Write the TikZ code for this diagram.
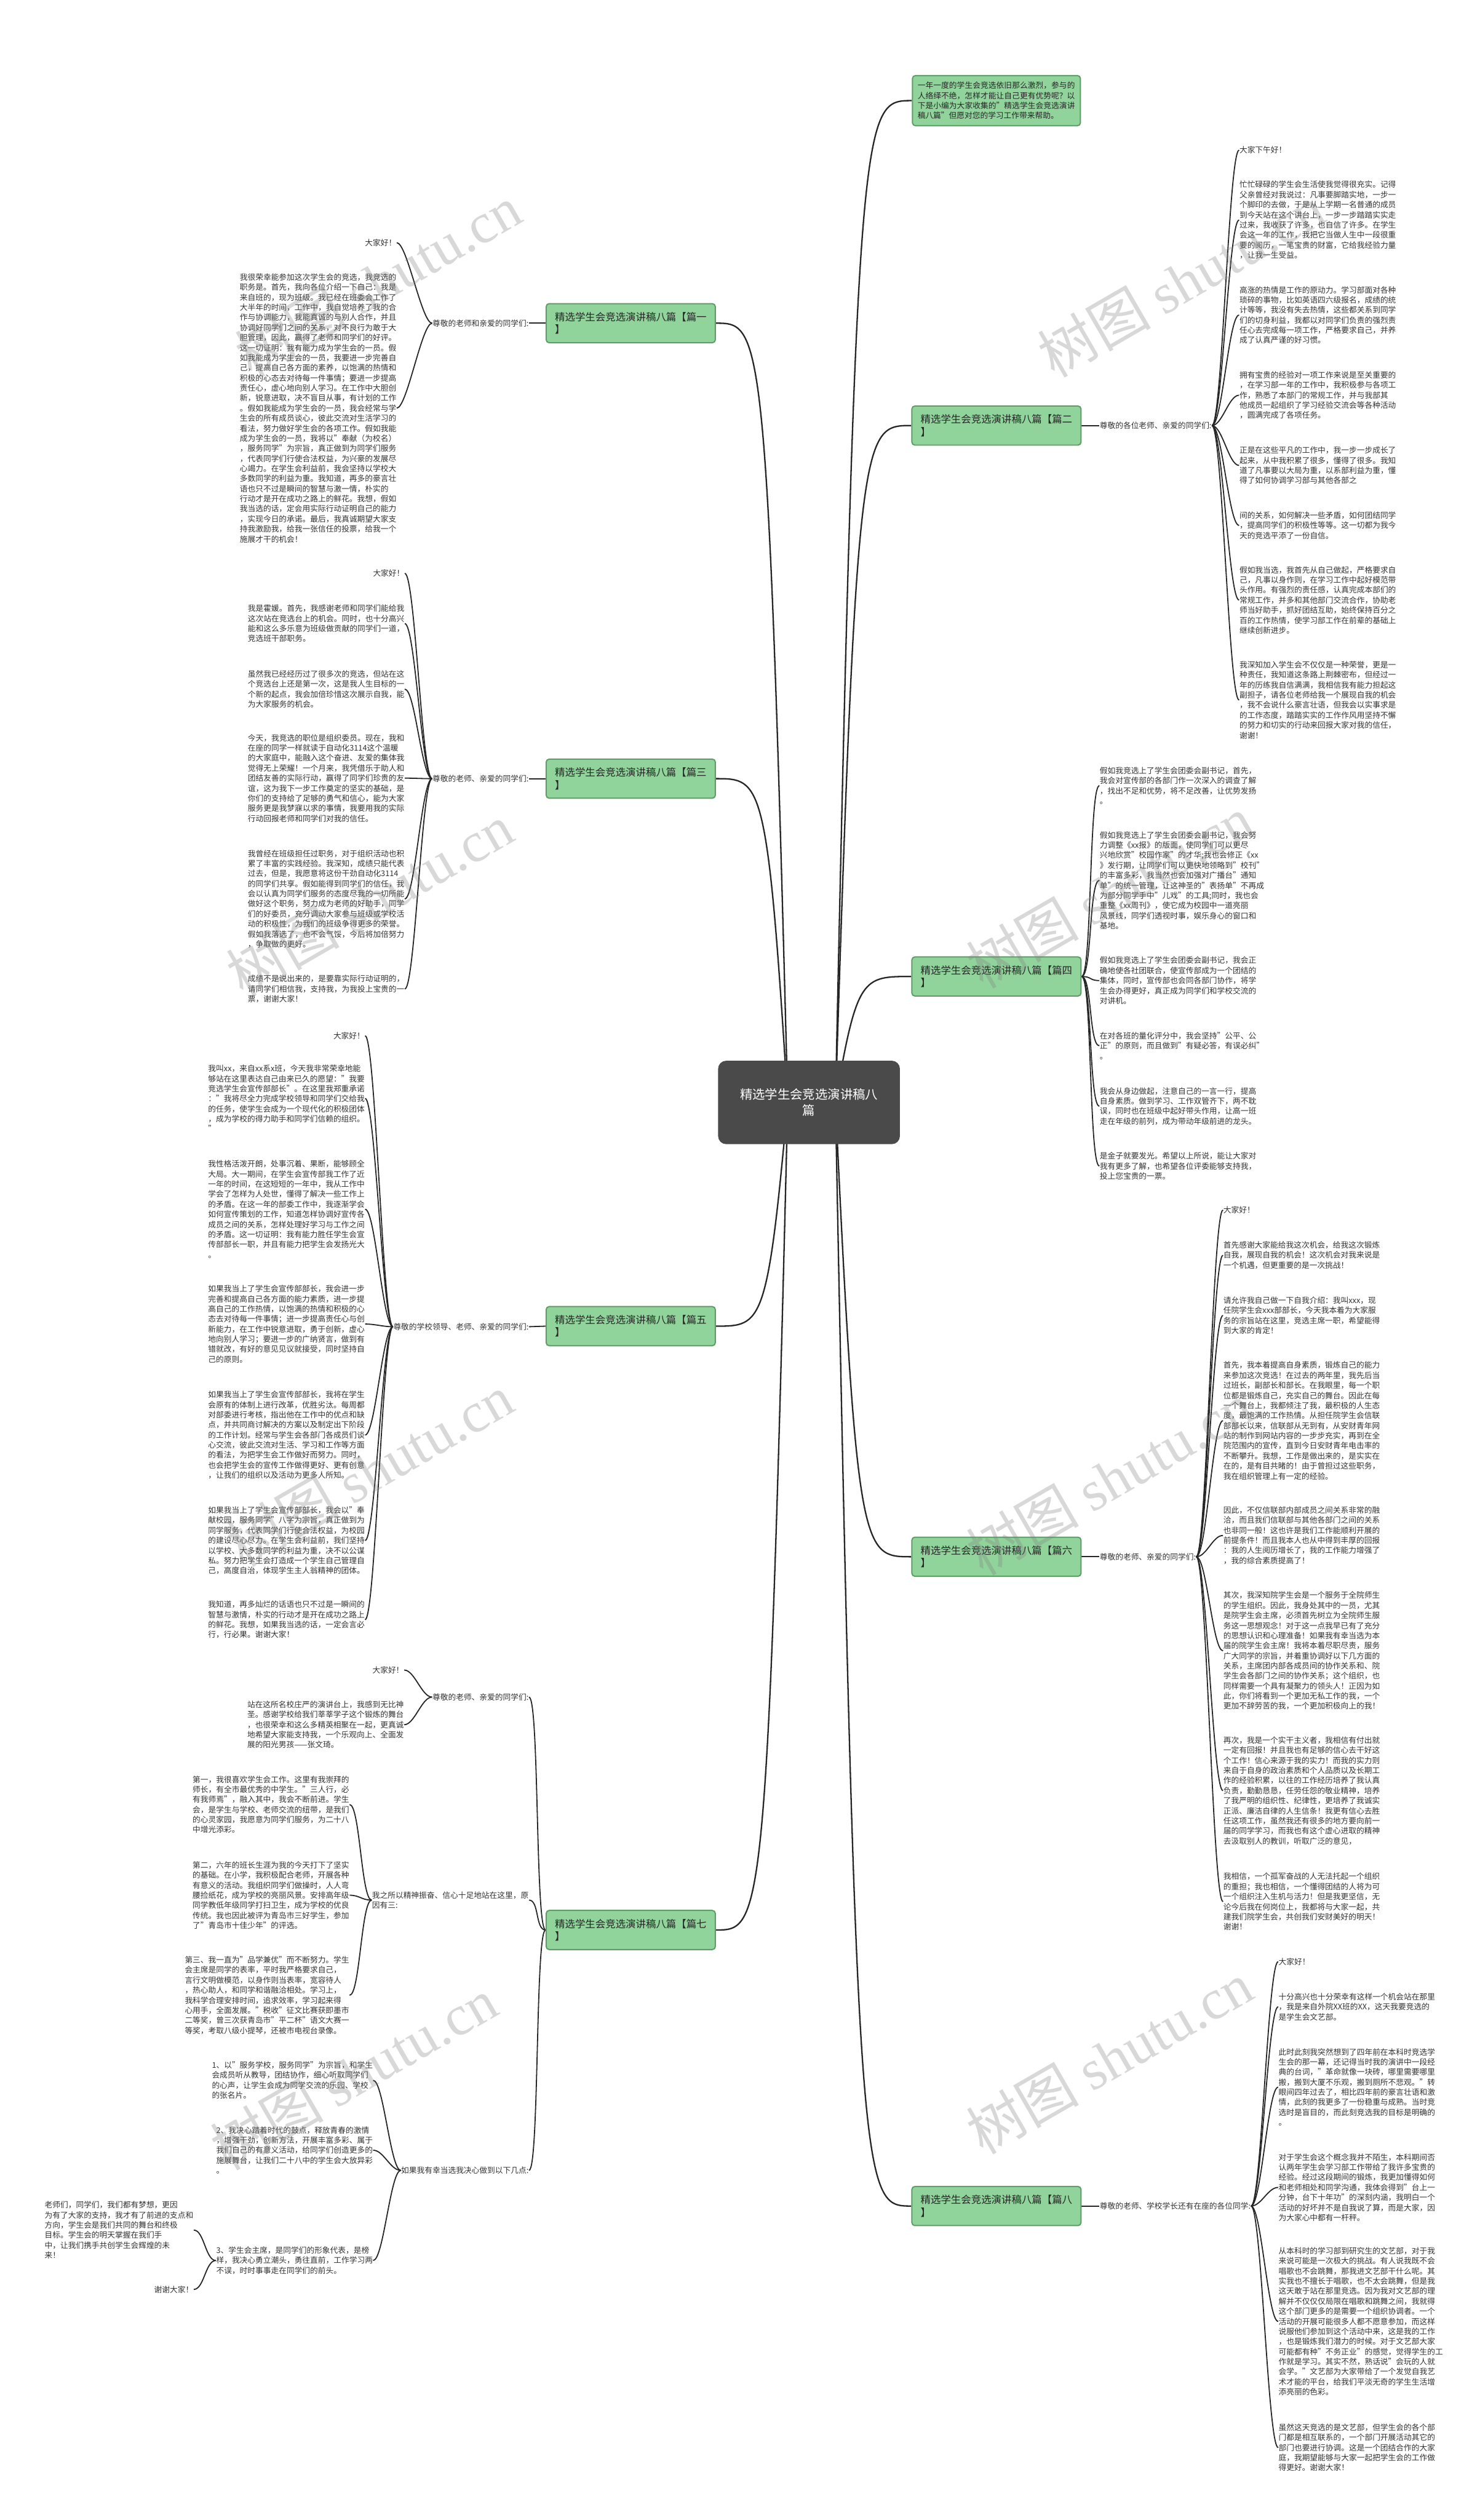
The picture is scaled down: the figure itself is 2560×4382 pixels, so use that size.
\documentclass[tikz,border=0pt]{standalone}
\usepackage{fontspec}
\setmainfont{Noto Sans CJK SC}
\newfontfamily\wmserif{Liberation Serif}
\usetikzlibrary{backgrounds}
\XeTeXlinebreaklocale "zh"
\XeTeXlinebreakskip=0pt plus 1pt
\definecolor{gfill}{HTML}{90D39B}
\definecolor{gline}{HTML}{5E9E66}
\definecolor{rootc}{HTML}{4A4A4A}
\definecolor{txt}{HTML}{333333}
\tikzset{
  para/.style={inner sep=0pt, align=left, text=txt, font=\fontsize{3.87pt}{4.98pt}\selectfont},
  branch/.style={draw=gline, fill=gfill, line width=0.6pt, rounded corners=1.5pt, minimum width=2.94cm, minimum height=0.68cm, inner xsep=0.12cm, inner ysep=0.08cm, align=left, font=\fontsize{5pt}{6.2pt}\selectfont, text=black!85},
  rootbox/.style={fill=rootc, text=white, rounded corners=4pt, minimum width=3.16cm, minimum height=1.45cm, align=center, font=\fontsize{6.2pt}{8pt}\selectfont},
  link/.style={line width=0.7pt, draw=black!85},
  sub/.style={line width=0.55pt, draw=black!85},
  wm/.style={text=gray, text opacity=0.3, rotate=30, font=\fontsize{28pt}{30pt}\selectfont, inner sep=0pt},
}
\newcommand{\brL}[2]{\draw[sub] (#1.west) .. controls +(-18,0) and +(18,0) .. (#2.east);}
\newcommand{\brR}[2]{\draw[sub] (#1.east) .. controls +(18,0) and +(-18,0) .. (#2.west);}
\begin{document}
\begin{tikzpicture}[x=0.01cm,y=-0.01cm]
\useasboundingbox (0,0) rectangle (2560,4382);
% root
\node[rootbox] (root) at (1407,1917) {精选学生会竞选演讲稿八\\篇};
\coordinate (rootR) at (1453,1917);
\coordinate (rootL) at (1370,1917);
% intro
\node[branch, minimum width=2.92cm, text width=2.74cm, font=\fontsize{3.87pt}{4.98pt}\selectfont, inner xsep=0.09cm, inner ysep=0.11cm] (intro) at (1733,175) {一年一度的学生会竞选依旧那么激烈，参与的人络绎不绝，怎样才能让自己更有优势呢？以下是小编为大家收集的"精选学生会竞选演讲稿八篇"但愿对您的学习工作带来帮助。};
% branches
\node[branch] (b1) at (1097,562) {精选学生会竞选演讲稿八篇【篇一\\】};
\node[branch] (b3) at (1097,1354) {精选学生会竞选演讲稿八篇【篇三\\】};
\node[branch] (b5) at (1097,2306) {精选学生会竞选演讲稿八篇【篇五\\】};
\node[branch] (b7) at (1097,3356) {精选学生会竞选演讲稿八篇【篇七\\】};
\node[branch] (b2) at (1733,740) {精选学生会竞选演讲稿八篇【篇二\\】};
\node[branch] (b4) at (1733,1698) {精选学生会竞选演讲稿八篇【篇四\\】};
\node[branch] (b6) at (1733,2707) {精选学生会竞选演讲稿八篇【篇六\\】};
\node[branch] (b8) at (1733,3836) {精选学生会竞选演讲稿八篇【篇八\\】};
% labels
\node[para, anchor=east] (l1) at (920,562) {尊敬的老师和亲爱的同学们:};
\node[para, anchor=east] (l3) at (920,1354) {尊敬的老师、亲爱的同学们:};
\node[para, anchor=east] (l5) at (920,2307) {尊敬的学校领导、老师、亲爱的同学们:};
\node[para, anchor=east] (l7a) at (920,2951) {尊敬的老师、亲爱的同学们:};
\node[para, anchor=east] (l7b) at (920,3304) {我之所以精神振奋、信心十足地站在这里，原\\因有三:};
\node[para, anchor=east] (l7c) at (920,3774) {如果我有幸当选我决心做到以下几点:};
\node[para, anchor=west] (l2) at (1912,740) {尊敬的各位老师、亲爱的同学们:};
\node[para, anchor=west] (l6) at (1912,2707) {尊敬的老师、亲爱的同学们:};
\node[para, anchor=west] (l8) at (1912,3836) {尊敬的老师、学校学长还有在座的各位同学:};
% ---------- 篇一
\node[para, anchor=east] (p1a) at (690,422) {大家好！};
\node[para, anchor=north east] (p1b) at (690,475) {我很荣幸能参加这次学生会的竞选，我竞选的\\
职务是。首先，我向各位介绍一下自己：我是\\
来自班的，现为班级。我已经在班委会工作了\\
大半年的时间，工作中，我自觉培养了我的合\\
作与协调能力，我能真诚的与别人合作，并且\\
协调好同学们之间的关系，对不良行为敢于大\\
胆管理，因此，赢得了老师和同学们的好评。\\
这一切证明：我有能力成为学生会的一员。假\\
如我能成为学生会的一员，我要进一步完善自\\
己，提高自己各方面的素养，以饱满的热情和\\
积极的心态去对待每一件事情；要进一步提高\\
责任心，虚心地向别人学习。在工作中大胆创\\
新，锐意进取，决不盲目从事，有计划的工作\\
。假如我能成为学生会的一员，我会经常与学\\
生会的所有成员谈心，彼此交流对生活学习的\\
看法，努力做好学生会的各项工作。假如我能\\
成为学生会的一员，我将以"奉献（为校名）\\
，服务同学"为宗旨，真正做到为同学们服务\\
，代表同学们行使合法权益，为兴豪的发展尽\\
心竭力。在学生会利益前，我会坚持以学校大\\
多数同学的利益为重。我知道，再多的豪言壮\\
语也只不过是瞬间的智慧与激一情，朴实的\\
行动才是开在成功之路上的鲜花。我想，假如\\
我当选的话，定会用实际行动证明自己的能力\\
，实现今日的承诺。最后，我真诚期望大家支\\
持我激励我，给我一张信任的投票，给我一个\\
施展才干的机会！};
% ---------- 篇三
\node[para, anchor=east] (p3a) at (704,997) {大家好！};
\node[para, anchor=north east] (p3b) at (704,1051) {我是霍媛。首先，我感谢老师和同学们能给我\\
这次站在竞选台上的机会。同时，也十分高兴\\
能和这么多乐意为班级做贡献的同学们一道，\\
竞选班干部职务。};
\node[para, anchor=north east] (p3c) at (704,1165) {虽然我已经经历过了很多次的竞选，但站在这\\
个竞选台上还是第一次，这是我人生目标的一\\
个新的起点，我会加倍珍惜这次展示自我，能\\
为大家服务的机会。};
\node[para, anchor=north east] (p3d) at (704,1276) {今天，我竞选的职位是组织委员。现在，我和\\
在座的同学一样就读于自动化3114这个温暖\\
的大家庭中，能融入这个奋进、友爱的集体我\\
觉得无上荣耀！一个月来，我凭借乐于助人和\\
团结友善的实际行动，赢得了同学们珍贵的友\\
谊，这为我下一步工作奠定的坚实的基础，是\\
你们的支持给了足够的勇气和信心，能为大家\\
服务更是我梦寐以求的事情，我要用我的实际\\
行动回报老师和同学们对我的信任。};
\node[para, anchor=north east] (p3e) at (704,1477) {我曾经在班级担任过职务，对于组织活动也积\\
累了丰富的实践经验。我深知，成绩只能代表\\
过去，但是，我愿意将这份干劲自动化3114\\
的同学们共享。假如能得到同学们的信任，我\\
会以认真为同学们服务的态度尽我的一切所能\\
做好这个职务，努力成为老师的好助手，同学\\
们的好委员，充分调动大家参与班级或学校活\\
动的积极性，为我们的班级争得更多的荣誉。\\
假如我落选了，也不会气馁，今后将加倍努力\\
，争取做的更好。};
\node[para, anchor=north east] (p3f) at (704,1695) {成绩不是说出来的，是要靠实际行动证明的，\\
请同学们相信我，支持我，为我投上宝贵的一\\
票，谢谢大家！};
% ---------- 篇五
\node[para, anchor=east] (p5a) at (635,1801) {大家好！};
\node[para, anchor=north east] (p5b) at (635,1851) {我叫xx，来自xx系x班，今天我非常荣幸地能\\
够站在这里表达自己由来已久的愿望："我要\\
竞选学生会宣传部部长"。在这里我郑重承诺\\
："我将尽全力完成学校领导和同学们交给我\\
的任务，使学生会成为一个现代化的积极团体\\
，成为学校的得力助手和同学们信赖的组织。\\
"};
\node[para, anchor=north east] (p5c) at (635,2017) {我性格活泼开朗，处事沉着、果断，能够顾全\\
大局。大一期间，在学生会宣传部我工作了近\\
一年的时间，在这短短的一年中，我从工作中\\
学会了怎样为人处世，懂得了解决一些工作上\\
的矛盾。在这一年的部委工作中，我逐渐学会\\
如何宣传策划的工作，知道怎样协调好宣传各\\
成员之间的关系，怎样处理好学习与工作之间\\
的矛盾。这一切证明：我有能力胜任学生会宣\\
传部部长一职，并且有能力把学生会发扬光大\\
。};
\node[para, anchor=north east] (p5d) at (635,2234) {如果我当上了学生会宣传部部长，我会进一步\\
完善和提高自己各方面的能力素质，进一步提\\
高自己的工作热情，以饱满的热情和积极的心\\
态去对待每一件事情；进一步提高责任心与创\\
新能力，在工作中锐意进取，勇于创新，虚心\\
地向别人学习；要进一步的广纳贤言，做到有\\
错就改，有好的意见见议就接受，同时坚持自\\
己的原则。};
\node[para, anchor=north east] (p5e) at (635,2418) {如果我当上了学生会宣传部部长，我将在学生\\
会原有的体制上进行改革，优胜劣汰。每周都\\
对部委进行考核，指出他在工作中的优点和缺\\
点，并共同商讨解决的方案以及制定出下阶段\\
的工作计划。经常与学生会各部门各成员们谈\\
心交流，彼此交流对生活、学习和工作等方面\\
的看法，为把学生会工作做好而努力。同时，\\
也会把学生会的宣传工作做得更好、更有创意\\
，让我们的组织以及活动为更多人所知。};
\node[para, anchor=north east] (p5f) at (635,2619) {如果我当上了学生会宣传部部长，我会以"奉\\
献校园，服务同学"八字为宗旨，真正做到为\\
同学服务，代表同学们行使合法权益，为校园\\
的建设尽心尽力。在学生会利益前，我们坚持\\
以学校、大多数同学的利益为重，决不以公谋\\
私。努力把学生会打造成一个学生自己管理自\\
己，高度自治，体现学生主人翁精神的团体。};
\node[para, anchor=north east] (p5g) at (635,2783) {我知道，再多灿烂的话语也只不过是一瞬间的\\
智慧与激情，朴实的行动才是开在成功之路上\\
的鲜花。我想，如果我当选的话，一定会言必\\
行，行必果。谢谢大家！};
% ---------- 篇七
\node[para, anchor=east] (p7a) at (703,2904) {大家好！};
\node[para, anchor=north east] (p7b) at (703,2957) {站在这所名校庄严的演讲台上，我感到无比神\\
圣。感谢学校给我们莘莘学子这个锻炼的舞台\\
，也很荣幸和这么多精英相聚在一起，更真诚\\
地希望大家能支持我，一个乐观向上、全面发\\
展的阳光男孩——张文琦。};
\node[para, anchor=north east] (p7c) at (608,3087) {第一，我很喜欢学生会工作。这里有我崇拜的\\
师长，有全市最优秀的中学生。"三人行，必\\
有我师焉"，融入其中，我会不断前进。学生\\
会，是学生与学校、老师交流的纽带，是我们\\
的心灵家园，我愿意为同学们服务，为二十八\\
中增光添彩。};
\node[para, anchor=north east] (p7d) at (608,3236) {第二，六年的班长生涯为我的今天打下了坚实\\
的基础。在小学，我积极配合老师，开展各种\\
有意义的活动。我组织同学们做操时，人人弯\\
腰捡纸花，成为学校的亮丽风景。安排高年级\\
同学教低年级同学打扫卫生，成为学校的优良\\
传统。我也因此被评为青岛市三好学生，参加\\
了"青岛市十佳少年"的评选。};
\node[para, anchor=north east] (p7e) at (608,3401) {第三、我一直为"品学兼优"而不断努力。学生\\
会主席是同学的表率，平时我严格要求自己，\\
言行文明做模范，以身作则当表率，宽容待人\\
，热心助人，和同学和谐融洽相处。学习上，\\
我科学合理安排时间，追求效率，学习起来得\\
心用手，全面发展。"税收"征文比赛获即墨市\\
二等奖，曾三次获青岛市"平二杯"语文大赛一\\
等奖，考取八级小提琴，还被市电视台录像。};
\node[para, anchor=north east] (p7f) at (649,3584) {1、以"服务学校，服务同学"为宗旨，和学生\\
会成员听从教导，团结协作，细心听取同学们\\
的心声，让学生会成为同学交流的乐园、学校\\
的张名片。};
\node[para, anchor=north east] (p7g) at (649,3697) {2、我决心踏着时代的鼓点，释放青春的激情\\
，增强干劲，创新方法，开展丰富多彩、属于\\
我们自己的有意义活动，给同学们创造更多的\\
施展舞台，让我们二十八中的学生会大放异彩\\
。};
\node[para, anchor=north east] (p7h) at (649,3906) {3、学生会主席，是同学们的形象代表，是榜\\
样，我决心勇立潮头，勇往直前，工作学习两\\
不误，时时事事走在同学们的前头。};
\node[para, anchor=north east] (p7i) at (337,3827) {老师们，同学们，我们都有梦想，更因\\
为有了大家的支持，我才有了前进的支点和\\
方向，学生会是我们共同的舞台和终极\\
目标。学生会的明天掌握在我们手\\
中，让我们携手共创学生会辉煌的未\\
来！};
\node[para, anchor=east] (p7j) at (337,3981) {谢谢大家！};
% ---------- 篇二
\node[para, anchor=west] (p2a) at (2155,261) {大家下午好！};
\node[para, anchor=north west] (p2b) at (2155,314) {忙忙碌碌的学生会生活使我觉得很充实。记得\\
父亲曾经对我说过：凡事要脚踏实地，一步一\\
个脚印的去做，于是从上学期一名普通的成员\\
到今天站在这个讲台上，一步一步踏踏实实走\\
过来，我收获了许多，也自信了许多。在学生\\
会这一年的工作，我把它当做人生中一段很重\\
要的阅历，一笔宝贵的财富，它给我经验力量\\
，让我一生受益。};
\node[para, anchor=north west] (p2c) at (2155,497) {高涨的热情是工作的原动力。学习部面对各种\\
琐碎的事物，比如英语四六级报名，成绩的统\\
计等等，我没有失去热情，这些都关系到同学\\
们的切身利益，我都以对同学们负责的强烈责\\
任心去完成每一项工作，严格要求自己，并养\\
成了认真严谨的好习惯。};
\node[para, anchor=north west] (p2d) at (2155,645) {拥有宝贵的经验对一项工作来说是至关重要的\\
，在学习部一年的工作中，我积极参与各项工\\
作，熟悉了本部门的常规工作，并与我部其\\
他成员一起组织了学习经验交流会等各种活动\\
，圆满完成了各项任务。};
\node[para, anchor=north west] (p2e) at (2155,776) {正是在这些平凡的工作中，我一步一步成长了\\
起来，从中我积累了很多，懂得了很多。我知\\
道了凡事要以大局为重，以系部利益为重，懂\\
得了如何协调学习部与其他各部之};
\node[para, anchor=north west] (p2f) at (2155,889) {间的关系，如何解决一些矛盾，如何团结同学\\
，提高同学们的积极性等等。这一切都为我今\\
天的竞选平添了一份自信。};
\node[para, anchor=north west] (p2g) at (2155,984) {假如我当选，我首先从自己做起，严格要求自\\
己，凡事以身作则，在学习工作中起好模范带\\
头作用。有强烈的责任感，认真完成本部们的\\
常规工作，并多和其他部门交流合作，协助老\\
师当好助手，抓好团结互助，始终保持百分之\\
百的工作热情，使学习部工作在前辈的基础上\\
继续创新进步。};
\node[para, anchor=north west] (p2h) at (2155,1149) {我深知加入学生会不仅仅是一种荣誉，更是一\\
种责任，我知道这条路上荆棘密布，但经过一\\
年的历练我自信满满，我相信我有能力担起这\\
副担子，请各位老师给我一个展现自我的机会\\
，我不会说什么豪言壮语，但我会以实事求是\\
的工作态度，踏踏实实的工作作风用坚持不懈\\
的努力和切实的行动来回报大家对我的信任，\\
谢谢！};
% ---------- 篇四
\node[para, anchor=north west] (p4a) at (1912,1333) {假如我竞选上了学生会团委会副书记，首先，\\
我会对宣传部的各部门作一次深入的调查了解\\
，找出不足和优势，将不足改善，让优势发扬\\
。};
\node[para, anchor=north west] (p4b) at (1912,1445) {假如我竞选上了学生会团委会副书记，我会努\\
力调整《xx报》的版面，使同学们可以更尽\\
兴地欣赏"校园作家"的才华;我也会修正《xx\\
》发行期，让同学们可以更快地领略到"校刊"\\
的丰富多彩，我当然也会加强对广播台"通知\\
单"的统一管理，让这神圣的"表扬单"不再成\\
为部分同学手中"儿戏"的工具;同时，我也会\\
重整《xx周刊》，使它成为校园中一道亮丽\\
风景线，同学们透视时事，娱乐身心的窗口和\\
基地。};
\node[para, anchor=north west] (p4c) at (1912,1663) {假如我竞选上了学生会团委会副书记，我会正\\
确地使各社团联合，使宣传部成为一个团结的\\
集体，同时，宣传部也会同各部门协作，将学\\
生会办得更好，真正成为同学们和学校交流的\\
对讲机。};
\node[para, anchor=north west] (p4d) at (1912,1794) {在对各班的量化评分中，我会坚持"公平、公\\
正"的原则，而且做到"有疑必答，有误必纠"\\
。};
\node[para, anchor=north west] (p4e) at (1912,1890) {我会从身边做起，注意自己的一言一行，提高\\
自身素质。做到学习、工作双管齐下，两不耽\\
误，同时也在班级中起好带头作用，让高一班\\
走在年级的前列，成为带动年级前进的龙头。};
\node[para, anchor=north west] (p4f) at (1912,2003) {是金子就要发光。希望以上所说，能让大家对\\
我有更多了解，也希望各位评委能够支持我，\\
投上您宝贵的一票。};
% ---------- 篇六
\node[para, anchor=west] (p6a) at (2127,2104) {大家好！};
\node[para, anchor=north west] (p6b) at (2127,2158) {首先感谢大家能给我这次机会，给我这次锻炼\\
自我，展现自我的机会！这次机会对我来说是\\
一个机遇，但更重要的是一次挑战！};
\node[para, anchor=north west] (p6c) at (2127,2254) {请允许我自己做一下自我介绍：我叫xxx，现\\
任院学生会xxx部部长，今天我本着为大家服\\
务的宗旨站在这里，竞选主席一职，希望能得\\
到大家的肯定！};
\node[para, anchor=north west] (p6d) at (2127,2367) {首先，我本着提高自身素质，锻炼自己的能力\\
来参加这次竞选！在过去的两年里，我先后当\\
过班长，副部长和部长。在我眼里，每一个职\\
位都是锻炼自己，充实自己的舞台。因此在每\\
一个舞台上，我都倾注了我，最积极的人生态\\
度，最饱满的工作热情。从担任院学生会信联\\
部部长以来，信联部从无到有，从安财青年网\\
站的制作到网站内容的一步步充实，再到在全\\
院范围内的宣传，直到今日安财青年电击率的\\
不断攀升。我想，工作是做出来的，是实实在\\
在的，是有目共睹的！由于曾担过这些职务，\\
我在组织管理上有一定的经验。};
\node[para, anchor=north west] (p6e) at (2127,2619) {因此，不仅信联部内部成员之间关系非常的融\\
洽，而且我们信联部与其他各部门之间的关系\\
也非同一般！这也许是我们工作能顺利开展的\\
前提条件！而且我本人也从中得到丰厚的回报\\
：我的人生阅历增长了，我的工作能力增强了\\
，我的综合素质提高了！};
\node[para, anchor=north west] (p6f) at (2127,2767) {其次，我深知院学生会是一个服务于全院师生\\
的学生组织。因此，我身处其中的一员，尤其\\
是院学生会主席，必须首先树立为全院师生服\\
务这一思想观念！对于这一点我早已有了充分\\
的思想认识和心理准备！如果我有幸当选为本\\
届的院学生会主席！我将本着尽职尽责，服务\\
广大同学的宗旨，并着重协调好以下几方面的\\
关系，主席团内部各成员间的协作关系和、院\\
学生会各部门之间的协作关系；这个组织，也\\
同样需要一个具有凝聚力的领头人！正因为如\\
此，你们将看到一个更加无私工作的我，一个\\
更加不辞劳苦的我，一个更加积极向上的我！};
\node[para, anchor=north west] (p6g) at (2127,3019) {再次，我是一个实干主义者，我相信有付出就\\
一定有回报！并且我也有足够的信心去干好这\\
个工作！信心来源于我的实力！而我的实力则\\
来自于自身的政治素质和个人品质以及长期工\\
作的经验积累，以往的工作经历培养了我认真\\
负责，勤勤恳恳，任劳任怨的敬业精神，培养\\
了我严明的组织性、纪律性，更培养了我诚实\\
正派、廉洁自律的人生信条！我更有信心去胜\\
任这项工作，虽然我还有很多的地方要向前一\\
届的同学学习，而我也有这个虚心进取的精神\\
去汲取别人的教训，听取广泛的意见，};
\node[para, anchor=north west] (p6h) at (2127,3256) {我相信，一个孤军奋战的人无法托起一个组织\\
的重担；我也相信，一个懂得团结的人将为可\\
一个组织注入生机与活力！但是我更坚信，无\\
论今后我在何岗位上，我都将与大家一起，共\\
建我们院学生会，共创我们安财美好的明天！\\
谢谢！};
% ---------- 篇八
\node[para, anchor=west] (p8a) at (2223,3411) {大家好！};
\node[para, anchor=north west] (p8b) at (2223,3465) {十分高兴也十分荣幸有这样一个机会站在那里\\
，我是来自外院XX班的XX，这天我要竞选的\\
是学生会文艺部。};
\node[para, anchor=north west] (p8c) at (2223,3561) {此时此刻我突然想到了四年前在本科时竞选学\\
生会的那一幕，还记得当时我的演讲中一段经\\
典的台词，"革命就像一块砖，哪里需要哪里\\
搬，搬到大厦不乐观，搬到厕所不悲观。"转\\
眼间四年过去了，相比四年前的豪言壮语和激\\
情，此刻的我更多了一份稳重与成熟。当时竞\\
选时是盲目的，而此刻竞选我的目标是明确的\\
。};
\node[para, anchor=north west] (p8d) at (2223,3744) {对于学生会这个概念我并不陌生，本科期间否\\
认两年学生会学习部工作带给了我许多宝贵的\\
经验。经过这段期间的锻炼，我更加懂得如何\\
和老师相处和同学沟通，我体会得到"台上一\\
分钟，台下十年功"的深刻内涵，我明白一个\\
活动的好坏并不是自我说了算，而是大家，因\\
为大家心中都有一杆秤。};
\node[para, anchor=north west] (p8e) at (2223,3907) {从本科时的学习部到研究生的文艺部，对于我\\
来说可能是一次极大的挑战。有人说我既不会\\
唱歌也不会跳舞，那我进文艺部干什么呢。其\\
实我也不擅长于唱歌，也不太会跳舞，但是我\\
这天敢于站在那里竞选。因为我对文艺部的理\\
解并不仅仅仅局限在唱歌和跳舞之间，我就得\\
这个部门更多的是需要一个组织协调者。一个\\
活动的开展可能很多人都不愿意参加，而这样\\
说服他们参加到这个活动中来，这是我的工作\\
，也是锻炼我们潜力的时候。对于文艺部大家\\
可能都有种"不务正业"的感觉，觉得学生的工\\
作就是学习。其实不然，熟话说"会玩的人就\\
会学。"文艺部为大家带给了一个发觉自我艺\\
术才能的平台，给我们平淡无奇的学生生活增\\
添亮丽的色彩。};
\node[para, anchor=north west] (p8f) at (2223,4214) {虽然这天竞选的是文艺部，但学生会的各个部\\
门都是相互联系的，一个部门开展活动其它的\\
部门也要进行协调。这是一个团结合作的大家\\
庭，我期望能够与大家一起把学生会的工作做\\
得更好。谢谢大家！};
% watermarks
\node[wm] (w1) at (657,489) {树图 {\wmserif shutu.cn}};
\node[wm] (w2) at (2054,489) {树图 {\wmserif shutu.cn}};
\node[wm] (w3) at (643,1565) {树图 {\wmserif shutu.cn}};
\node[wm] (w4) at (1929,1551) {树图 {\wmserif shutu.cn}};
\node[wm] (w5) at (643,2557) {树图 {\wmserif shutu.cn}};
\node[wm] (w6) at (1929,2571) {树图 {\wmserif shutu.cn}};
\node[wm] (w7) at (615,3606) {树图 {\wmserif shutu.cn}};
\node[wm] (w8) at (1929,3578) {树图 {\wmserif shutu.cn}};
\begin{pgfonlayer}{background}
\fill[white] (0,0) rectangle (2560,4382);
% root links
\draw[link] (rootR) .. controls (1490,175) and (1500,175) .. (intro.west);
\draw[link] (rootR) .. controls (1490,740) and (1500,740) .. (b2.west);
\draw[link] (rootR) .. controls (1490,1698) and (1500,1698) .. (b4.west);
\draw[link] (rootR) .. controls (1490,2707) and (1500,2707) .. (b6.west);
\draw[link] (rootR) .. controls (1490,3836) and (1500,3836) .. (b8.west);
\draw[link] (rootL) .. controls (1335,562) and (1325,562) .. (b1.east);
\draw[link] (rootL) .. controls (1335,1354) and (1325,1354) .. (b3.east);
\draw[link] (rootL) .. controls (1335,2306) and (1325,2306) .. (b5.east);
\draw[link] (rootL) .. controls (1335,3356) and (1325,3356) .. (b7.east);
% branch to labels
\draw[sub] (b1.west) -- (l1.east);
\draw[sub] (b3.west) -- (l3.east);
\draw[sub] (b5.west) -- (l5.east);
\draw[sub] (b2.east) -- (l2.west);
\draw[sub] (b6.east) -- (l6.west);
\draw[sub] (b8.east) -- (l8.west);
\brL{b7}{l7a} \brL{b7}{l7b} \brL{b7}{l7c}
% left braces
\brL{l1}{p1a} \brL{l1}{p1b}
\brL{l3}{p3a} \brL{l3}{p3b} \brL{l3}{p3c} \brL{l3}{p3d} \brL{l3}{p3e} \brL{l3}{p3f}
\brL{l5}{p5a} \brL{l5}{p5b} \brL{l5}{p5c} \brL{l5}{p5d} \brL{l5}{p5e} \brL{l5}{p5f} \brL{l5}{p5g}
\brL{l7a}{p7a} \brL{l7a}{p7b}
\brL{l7b}{p7c} \brL{l7b}{p7d} \brL{l7b}{p7e}
\brL{l7c}{p7f} \brL{l7c}{p7g} \brL{l7c}{p7h}
\brL{p7h}{p7i} \brL{p7h}{p7j}
% right braces
\brR{l2}{p2a} \brR{l2}{p2b} \brR{l2}{p2c} \brR{l2}{p2d} \brR{l2}{p2e} \brR{l2}{p2f} \brR{l2}{p2g} \brR{l2}{p2h}
\brR{b4}{p4a} \brR{b4}{p4b} \brR{b4}{p4c} \brR{b4}{p4d} \brR{b4}{p4e} \brR{b4}{p4f}
\brR{l6}{p6a} \brR{l6}{p6b} \brR{l6}{p6c} \brR{l6}{p6d} \brR{l6}{p6e} \brR{l6}{p6f} \brR{l6}{p6g} \brR{l6}{p6h}
\brR{l8}{p8a} \brR{l8}{p8b} \brR{l8}{p8c} \brR{l8}{p8d} \brR{l8}{p8e} \brR{l8}{p8f}
\end{pgfonlayer}
\end{tikzpicture}
\end{document}
